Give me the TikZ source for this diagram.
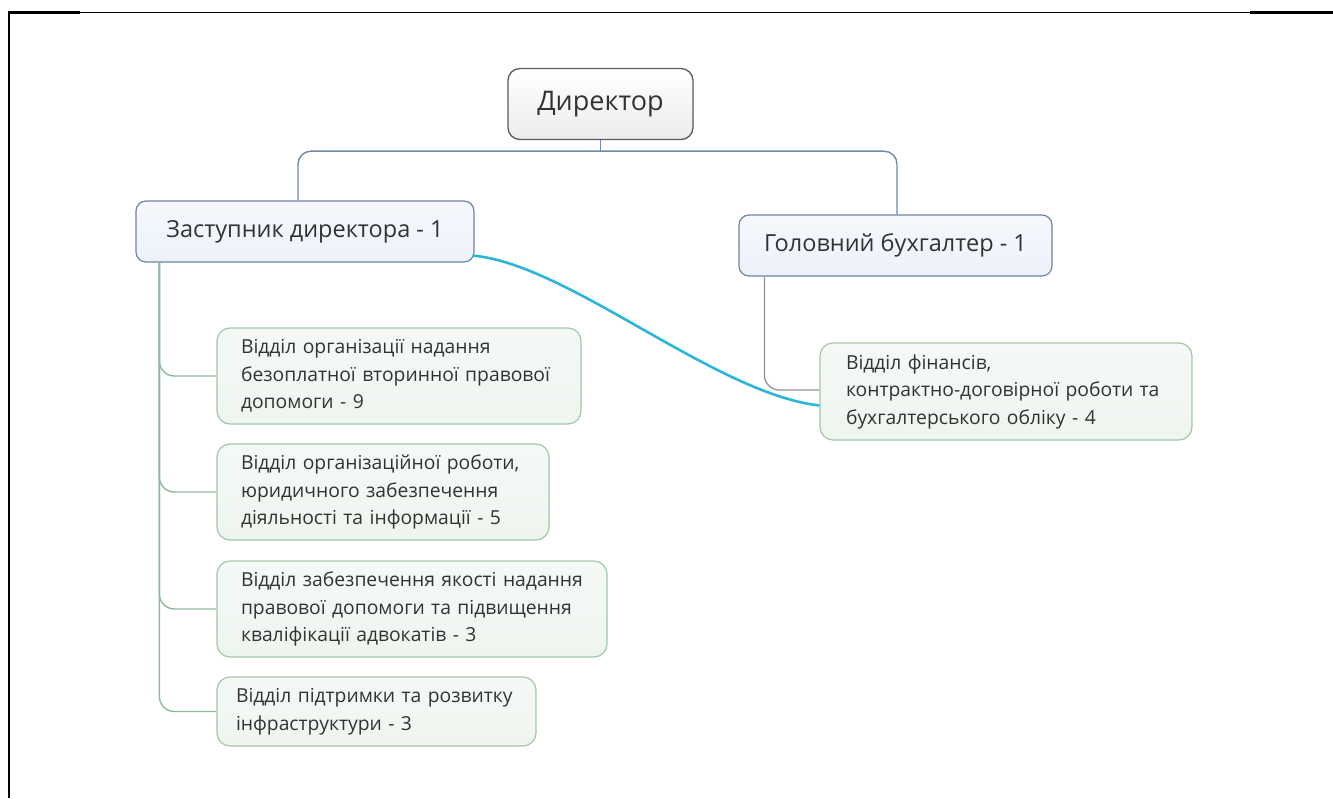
\documentclass[tikz,border=0pt]{standalone}
\usepackage{fontspec}
\setmainfont{Open Sans}
\usetikzlibrary{calc}
\definecolor{txt}{HTML}{333333}
\definecolor{dirborder}{HTML}{5A5A5A}
\definecolor{blueborder}{HTML}{6F84A6}
\definecolor{bluefill}{HTML}{EDF1FA}
\definecolor{greenborder}{HTML}{A3C6AA}
\definecolor{greenfill}{HTML}{EEF5EF}
\definecolor{topline}{HTML}{6F89A8}
\definecolor{greenline}{HTML}{8FB89C}
\definecolor{grayline}{HTML}{8E9498}
\definecolor{cyanline}{HTML}{2DB5D8}
\tikzset{
  dirbox/.style={draw=dirborder, line width=1.3pt, rounded corners=12pt, top color=white, bottom color={rgb,255:red,236;green,236;blue,236}, minimum width=185pt, minimum height=71pt, inner sep=0pt, text=txt, font=\fontsize{27}{32}\selectfont},
  bluebox/.style={draw=blueborder, line width=1.2pt, rounded corners=10pt, top color={rgb,255:red,246;green,248;blue,253}, bottom color=bluefill, minimum height=61pt, inner sep=0pt, text=txt, font=\fontsize{23.5}{28}\selectfont},
  greenbox/.style={draw=greenborder, line width=1.2pt, rounded corners=13pt, top color={rgb,255:red,244;green,249;blue,245}, bottom color=greenfill, inner xsep=24pt, inner ysep=0pt, align=left, text=txt, font=\fontsize{19.3}{27.5}\selectfont},
  conn/.style={draw=topline, line width=1.4pt, rounded corners=13pt},
  gconn/.style={draw=greenline, line width=1.4pt, rounded corners=15pt},
  grconn/.style={draw=grayline, line width=1.3pt, rounded corners=15pt},
  cconn/.style={draw=cyanline, line width=2.6pt},
}
\begin{document}
\begin{tikzpicture}[x=1pt,y=-1pt]
\useasboundingbox (0,0) rectangle (1333,798);
% frame
\draw[line width=1pt] (80,12) -- (1250,12);
\draw[line width=3pt] (8,12) -- (80,12);
\draw[line width=3pt] (1250,12) -- (1333,12);
\draw[line width=2.5pt] (9,10.5) -- (9,798);
% nodes
\node[dirbox] (dir) at (600.5,104) {Директор};
\node[bluebox, minimum width=338pt] (zast) at (305,231.5) {Заступник директора - 1};
\node[bluebox, minimum width=313pt] (gol) at (895.5,245.5) {Головний бухгалтер - 1};
\node[greenbox, text width=316pt, minimum height=96pt] (b1) at (399,376) {\mbox{Відділ організації надання}\\\mbox{безоплатної вторинної правової}\\\mbox{допомоги - 9}};
\node[greenbox, text width=284pt, minimum height=96pt] (b2) at (383,492) {\mbox{Відділ організаційної роботи,}\\\mbox{юридичного забезпечення}\\\mbox{діяльності та інформації - 5}};
\node[greenbox, text width=342pt, minimum height=96pt] (b3) at (412,609) {\mbox{Відділ забезпечення якості надання}\\\mbox{правової допомоги та підвищення}\\\mbox{кваліфікації адвокатів - 3}};
\node[greenbox, inner xsep=19pt, text width=281pt, minimum height=69pt] (b4) at (376.5,711.5) {\mbox{Відділ підтримки та розвитку}\\\mbox{інфраструктури - 3}};
\node[greenbox, inner xsep=26pt, text width=320pt, minimum height=97pt] (fin) at (1006,391.5) {\mbox{Відділ фінансів,}\\\mbox{контрактно-договірної роботи та}\\\mbox{бухгалтерського обліку - 4}};
% connectors from director
\coordinate (zn) at ([xshift=-7pt]zast.north);
\coordinate (gn) at ([xshift=1.5pt]gol.north);
\coordinate (bus) at ([yshift=-11pt]dir.south);
\draw[conn] (dir.south) -- (bus);
\draw[conn] (zn) |- (bus -| gn) -- (gn);
% green trunk
\coordinate (zs) at ([xshift=24pt]zast.south west);
\draw[gconn] (zs) |- (b1.west);
\draw[gconn] (zs) |- (b2.west);
\draw[gconn] (zs) |- (b3.west);
\draw[gconn] (zs) |- (b4.west);
% gray branch
\coordinate (gs) at ([xshift=26pt]gol.south west);
\draw[grconn] (gs) |- ([yshift=1.5pt]fin.west);
% cyan relation
\coordinate (cs) at ([xshift=-2pt,yshift=7pt]zast.south east);
\coordinate (ce) at ([yshift=-14pt]fin.west);
\draw[cconn] (cs) .. controls ($(cs)+(95,8)$) and ($(ce)+(-105,-12)$) .. (ce);
\end{tikzpicture}
\end{document}
